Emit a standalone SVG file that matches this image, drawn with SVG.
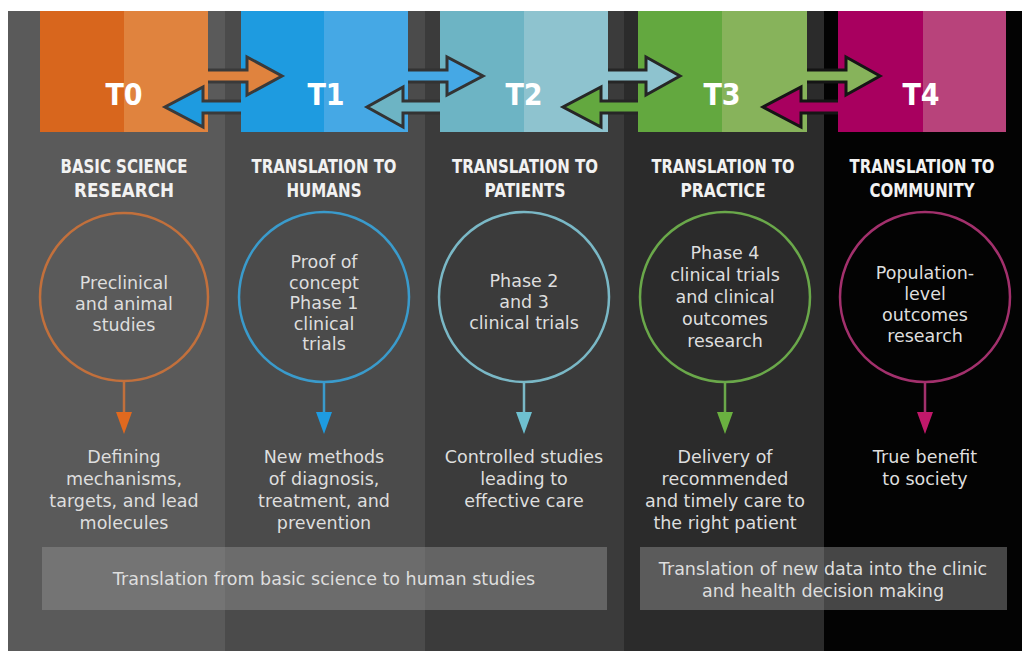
<svg xmlns="http://www.w3.org/2000/svg" width="1026" height="651" viewBox="0 0 1026 651">
<style>
.hd{font-family:"DejaVu Sans Condensed","DejaVu Sans",sans-serif;font-weight:bold;font-size:20px;fill:#f2f2f2;text-anchor:middle}
.tl{font-family:"DejaVu Sans Condensed","DejaVu Sans",sans-serif;font-weight:bold;font-size:30px;fill:#ffffff;text-anchor:middle}
.bd{font-family:"DejaVu Sans",sans-serif;font-size:17.5px;fill:#dedede;text-anchor:middle}
.bar{fill:#929292;fill-opacity:0.47}
.ring{fill:none;stroke-width:2.5}
.dbl{stroke-width:3;stroke-linejoin:miter}
</style>
<rect width="1026" height="651" fill="#ffffff"/>
<g id="col0">
<rect x="8" y="11" width="217" height="640" fill="#5a5a5a"/>
<rect x="40" y="11" width="84" height="121" fill="#d8661d"/>
<rect x="124" y="11" width="84" height="121" fill="#e0833e"/>
<text class="tl" x="124" y="105">T0</text>
<text class="hd" x="124" y="173" textLength="127" lengthAdjust="spacingAndGlyphs">BASIC SCIENCE</text>
<text class="hd" x="124" y="197" textLength="100" lengthAdjust="spacingAndGlyphs">RESEARCH</text>
<circle class="ring" cx="124" cy="297" r="84" stroke="#c2703c"/>
<text class="bd" x="124" y="289">Preclinical</text>
<text class="bd" x="124" y="310">and animal</text>
<text class="bd" x="124" y="331">studies</text>
<text class="bd" x="124" y="463">Defining</text>
<text class="bd" x="124" y="485">mechanisms,</text>
<text class="bd" x="124" y="507">targets, and lead</text>
<text class="bd" x="124" y="529">molecules</text>
</g>
<g id="col1">
<rect x="225" y="11" width="200" height="640" fill="#4b4b4b"/>
<rect x="241" y="11" width="83" height="121" fill="#1e9be0"/>
<rect x="324" y="11" width="84" height="121" fill="#45a8e5"/>
<text class="tl" x="326" y="105">T1</text>
<text class="hd" x="324" y="173" textLength="145" lengthAdjust="spacingAndGlyphs">TRANSLATION TO</text>
<text class="hd" x="324" y="197" textLength="75" lengthAdjust="spacingAndGlyphs">HUMANS</text>
<circle class="ring" cx="324" cy="297" r="85" stroke="#3a9bcc"/>
<text class="bd" x="324" y="268">Proof of</text>
<text class="bd" x="324" y="289">concept</text>
<text class="bd" x="324" y="309">Phase 1</text>
<text class="bd" x="324" y="330">clinical</text>
<text class="bd" x="324" y="350">trials</text>
<text class="bd" x="324" y="463">New methods</text>
<text class="bd" x="324" y="485">of diagnosis,</text>
<text class="bd" x="324" y="507">treatment, and</text>
<text class="bd" x="324" y="529">prevention</text>
</g>
<g id="col2">
<rect x="425" y="11" width="199" height="640" fill="#3b3b3b"/>
<rect x="440" y="11" width="84" height="121" fill="#6db4c4"/>
<rect x="524" y="11" width="84" height="121" fill="#8ec3cf"/>
<text class="tl" x="524" y="105">T2</text>
<text class="hd" x="525" y="173" textLength="146" lengthAdjust="spacingAndGlyphs">TRANSLATION TO</text>
<text class="hd" x="525" y="197" textLength="81" lengthAdjust="spacingAndGlyphs">PATIENTS</text>
<circle class="ring" cx="524" cy="297" r="85" stroke="#7ab8c6"/>
<text class="bd" x="524" y="287">Phase 2</text>
<text class="bd" x="524" y="308">and 3</text>
<text class="bd" x="524" y="329">clinical trials</text>
<text class="bd" x="524" y="463">Controlled studies</text>
<text class="bd" x="524" y="485">leading to</text>
<text class="bd" x="524" y="507">effective care</text>
</g>
<g id="col3">
<rect x="624" y="11" width="200" height="640" fill="#2b2b2b"/>
<rect x="638" y="11" width="84" height="121" fill="#63a83f"/>
<rect x="722" y="11" width="85" height="121" fill="#87b35b"/>
<text class="tl" x="722" y="105">T3</text>
<text class="hd" x="723" y="173" textLength="143" lengthAdjust="spacingAndGlyphs">TRANSLATION TO</text>
<text class="hd" x="723" y="197" textLength="85" lengthAdjust="spacingAndGlyphs">PRACTICE</text>
<circle class="ring" cx="725" cy="297" r="85" stroke="#6aa84a"/>
<text class="bd" x="725" y="259">Phase 4</text>
<text class="bd" x="725" y="281">clinical trials</text>
<text class="bd" x="725" y="303">and clinical</text>
<text class="bd" x="725" y="325">outcomes</text>
<text class="bd" x="725" y="347">research</text>
<text class="bd" x="725" y="463">Delivery of</text>
<text class="bd" x="725" y="485">recommended</text>
<text class="bd" x="725" y="507">and timely care to</text>
<text class="bd" x="725" y="529">the right patient</text>
</g>
<g id="col4">
<rect x="824" y="11" width="198" height="640" fill="#030303"/>
<rect x="838" y="11" width="85" height="121" fill="#a8005f"/>
<rect x="923" y="11" width="83" height="121" fill="#b8437b"/>
<text class="tl" x="921" y="105">T4</text>
<text class="hd" x="922" y="173" textLength="145" lengthAdjust="spacingAndGlyphs">TRANSLATION TO</text>
<text class="hd" x="922" y="197" textLength="105" lengthAdjust="spacingAndGlyphs">COMMUNITY</text>
<circle class="ring" cx="925" cy="297" r="85" stroke="#a2306c"/>
<text class="bd" x="925" y="279">Population-</text>
<text class="bd" x="925" y="300">level</text>
<text class="bd" x="925" y="321">outcomes</text>
<text class="bd" x="925" y="342">research</text>
<text class="bd" x="925" y="463">True benefit</text>
<text class="bd" x="925" y="485">to society</text>
</g>
<g id="bar-left">
<rect class="bar" x="42" y="547" width="565" height="63"/>
<text class="bd" x="324" y="585">Translation from basic science to human studies</text>
</g>
<g id="bar-right">
<rect class="bar" x="640" y="547" width="367" height="63"/>
<text class="bd" x="823" y="575">Translation of new data into the clinic</text>
<text class="bd" x="823" y="597">and health decision making</text>
</g>
<g id="connectors">
<path class="dbl" d="M208,70 L247,70 L247,57 L282,76 L247,95 L247,82 L208,82" fill="#e0833e" stroke="#3a3a3a"/>
<path class="dbl" d="M241,101 L203,101 L203,87 L165,107 L203,127 L203,113 L241,113" fill="#1e9be0" stroke="#3a3a3a"/>
<path class="dbl" d="M408,70 L447,70 L447,57 L483,76 L447,95 L447,82 L408,82" fill="#45a8e5" stroke="#333333"/>
<path class="dbl" d="M440,101 L403,101 L403,87 L367,107 L403,127 L403,113 L440,113" fill="#6db4c4" stroke="#333333"/>
<path class="dbl" d="M608,70 L646,70 L646,57 L680,76 L646,95 L646,82 L608,82" fill="#8ec3cf" stroke="#262626"/>
<path class="dbl" d="M638,101 L601,101 L601,87 L563,107 L601,127 L601,113 L638,113" fill="#63a83f" stroke="#262626"/>
<path class="dbl" d="M807,70 L846,70 L846,57 L880,76 L846,95 L846,82 L807,82" fill="#87b35b" stroke="#151515"/>
<path class="dbl" d="M838,101 L801,101 L801,87 L763,107 L801,127 L801,113 L838,113" fill="#a8005f" stroke="#151515"/>
<line x1="124" y1="381" x2="124" y2="414" stroke="#c2703c" stroke-width="2.5"/>
<polygon points="116,412 132,412 124,434" fill="#e0691f"/>
<line x1="324" y1="382" x2="324" y2="414" stroke="#3a9bcc" stroke-width="2.5"/>
<polygon points="316,412 332,412 324,434" fill="#1e9be0"/>
<line x1="524" y1="382" x2="524" y2="414" stroke="#7ab8c6" stroke-width="2.5"/>
<polygon points="516,412 532,412 524,434" fill="#6ec0d0"/>
<line x1="725" y1="382" x2="725" y2="414" stroke="#6aa84a" stroke-width="2.5"/>
<polygon points="717,412 733,412 725,434" fill="#6ab040"/>
<line x1="925" y1="382" x2="925" y2="414" stroke="#a2306c" stroke-width="2.5"/>
<polygon points="917,412 933,412 925,434" fill="#c0186a"/>
</g>
</svg>
